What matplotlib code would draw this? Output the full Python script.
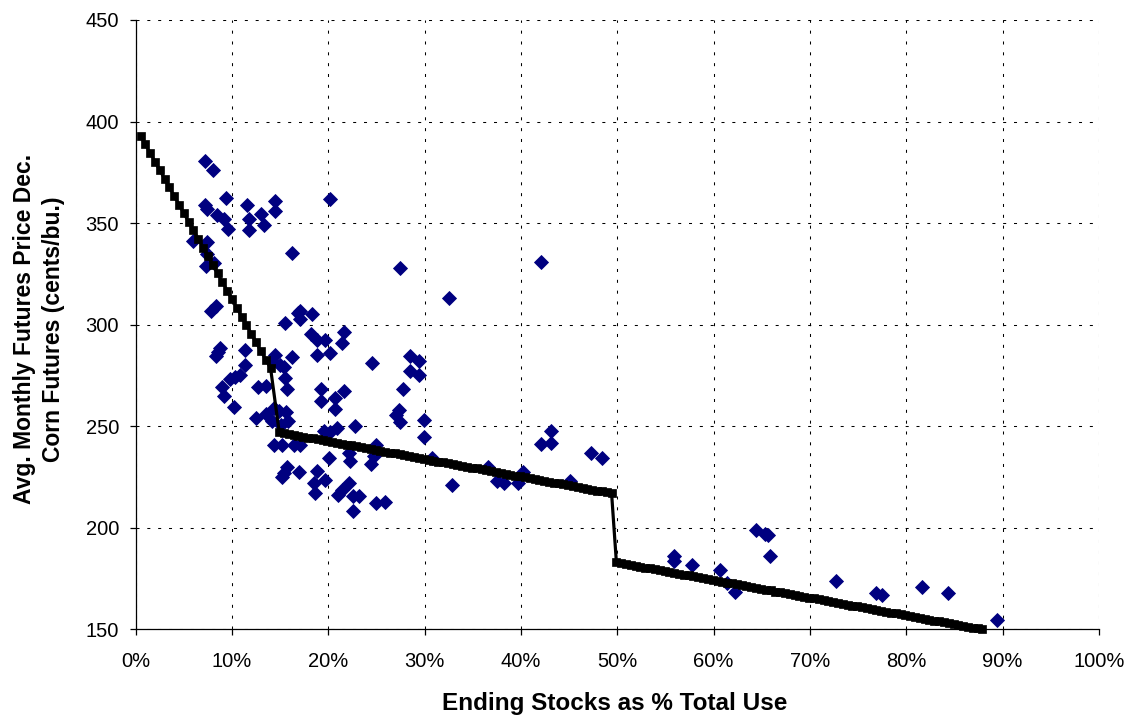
import numpy as np
import matplotlib
matplotlib.use("Agg")
import matplotlib.pyplot as plt

plt.rcParams['font.family'] = ['Liberation Sans', 'DejaVu Sans']

# Scatter observations: ending stocks (% of total use) vs. avg. monthly Dec. corn futures price (cents/bu.)
stocks_pct = [
    7.2, 8.0, 9.35, 7.2, 7.45, 11.6, 14.5, 14.5, 8.4, 9.2, 11.75, 13.0, 13.3, 9.6, 11.75,
    20.2, 5.9, 7.4, 7.4, 7.3, 8.1, 16.25, 27.4, 32.5, 7.8, 8.3, 15.5, 17.1, 16.8, 18.3,
    17.1, 18.2, 18.85, 19.7, 21.6, 21.4, 8.5, 8.8, 8.3, 11.35, 11.35, 14.5, 14.2, 15.0,
    15.4, 15.55, 15.7, 16.25, 18.85, 20.2, 24.5, 28.5, 29.4, 28.5, 29.4, 9.8, 10.3, 10.8,
    9.0, 9.2, 10.2, 12.7, 13.55, 19.25, 21.6, 19.25, 20.65, 20.7, 27.7, 27.3, 27.0, 27.4,
    29.9, 29.9, 12.5, 13.5, 14.1, 14.35, 14.9, 15.65, 15.8, 15.1, 22.8, 19.5, 20.2, 20.9,
    14.35, 15.15, 16.4, 17.1, 24.9, 20.05, 22.1, 22.25, 24.7, 24.4, 30.75, 15.7, 15.4,
    15.2, 16.95, 18.85, 19.7, 18.5, 18.65, 22.1, 21.4, 21.0, 22.6, 23.2, 22.6, 24.9, 25.9,
    32.8, 42.1, 36.6, 37.5, 38.2, 39.7, 40.2, 42.1, 43.1, 43.1, 45.1, 47.3, 48.4, 55.9,
    55.9, 57.7, 60.7, 61.4, 62.2, 64.4, 65.3, 65.6, 65.8, 72.7, 76.8, 77.5, 81.6, 84.3, 89.4,
]
price = [
    380.5, 376, 362.5, 359, 357, 359, 361, 356, 354, 352, 352, 354.5, 349, 347, 346.5,
    362, 341, 340.5, 335, 329, 330.5, 335.5, 328, 313, 306.5, 309, 300.8, 306.5, 305.5, 305.3,
    303, 295.5, 292.6, 292.6, 296.5, 291.2, 286.3, 288.3, 284.5, 287.7, 280.3, 285, 282, 280,
    279, 273.5, 268.5, 284.2, 285.2, 286, 281.2, 284.4, 282.3, 277, 275.3, 273, 274.4, 275.3,
    269.4, 265, 259.5, 269.3, 270, 268.3, 267.4, 262.5, 263.8, 258.7, 268.3, 258, 255.5, 252,
    252.8, 244.9, 254.2, 255.8, 252.5, 259, 257.3, 256.8, 252.5, 250.5, 250.3, 247.7, 247.2, 249,
    240.8, 240.8, 240.8, 240.8, 240.5, 234.2, 236.7, 233, 235.5, 231.4, 234.5, 230, 226.8,
    225.2, 227.6, 228, 223.3, 221.9, 217.2, 221.9, 218.4, 216.3, 215.5, 215.5, 208, 212, 212.8,
    221, 330.7, 230.1, 223.2, 221.9, 221.9, 227.3, 241.3, 247.4, 241.7, 223.2, 236.7, 234.2, 186,
    183.8, 181.8, 179.4, 172.8, 168.6, 198.8, 197, 196.2, 186, 173.6, 168.1, 167, 170.8, 167.8, 154.6,
]

# Price model line (three pieces), evaluated every 0.5 % of stocks-to-use
model_seg1_pct = np.arange(0.5, 14.01, 0.5)
model_seg1_price = [
    393.0, 388.8, 384.5, 380.3, 376.1, 371.8, 367.6, 363.3, 359.1, 354.9, 350.6, 346.4,
    342.2, 337.9, 333.7, 329.4, 325.2, 321.0, 316.7, 312.5, 308.3, 304.0, 299.8, 295.5,
    291.3, 287.1, 282.8, 278.6,
]
model_seg2_pct = np.arange(14.9, 49.41, 0.5)
model_seg2_price = [
    247.0, 246.6, 246.1, 245.7, 245.3, 244.8, 244.4, 244.0, 243.5, 243.1, 242.7, 242.2,
    241.8, 241.3, 240.9, 240.5, 240.0, 239.6, 239.2, 238.7, 238.3, 237.9, 237.4, 237.0,
    236.6, 236.1, 235.7, 235.3, 234.8, 234.4, 234.0, 233.5, 233.1, 232.6, 232.2, 231.8,
    231.3, 230.9, 230.5, 230.0, 229.6, 229.2, 228.7, 228.3, 227.9, 227.4, 227.0, 226.6,
    226.1, 225.7, 225.3, 224.8, 224.4, 223.9, 223.5, 223.1, 222.6, 222.2, 221.8, 221.3,
    220.9, 220.5, 220.0, 219.6, 219.2, 218.7, 218.3, 217.9, 217.4, 217.0,
]
model_seg3_pct = np.arange(49.9, 87.91, 0.5)
model_seg3_price = [
    183.0, 182.6, 182.1, 181.7, 181.3, 180.8, 180.4, 180.0, 179.5, 179.1, 178.7, 178.2,
    177.8, 177.3, 176.9, 176.5, 176.0, 175.6, 175.2, 174.7, 174.3, 173.9, 173.4, 173.0,
    172.6, 172.1, 171.7, 171.3, 170.8, 170.4, 170.0, 169.5, 169.1, 168.6, 168.2, 167.8,
    167.3, 166.9, 166.5, 166.0, 165.6, 165.2, 164.7, 164.3, 163.9, 163.4, 163.0, 162.6,
    162.1, 161.7, 161.3, 160.8, 160.4, 159.9, 159.5, 159.1, 158.6, 158.2, 157.8, 157.3,
    156.9, 156.5, 156.0, 155.6, 155.2, 154.7, 154.3, 153.9, 153.4, 153.0, 152.6, 152.1,
    151.7, 151.2, 150.8, 150.4, 149.9,
]

x_ticks = list(range(0, 101, 10))
y_ticks = list(range(150, 451, 50))

fig = plt.figure(figsize=(11.28, 7.21), dpi=100)
ax = fig.add_axes([0.1203, 0.1272, 0.8540, 0.8451])

ax.plot(stocks_pct, price, linestyle='none', marker='D', ms=6.8,
        color='#000080', mec='#000080', mew=0.6, zorder=3)

model_pct = np.concatenate([model_seg1_pct, model_seg2_pct, model_seg3_pct])
model_price = model_seg1_price + model_seg2_price + model_seg3_price
ax.plot(model_pct, model_price, color='black', lw=2.3, marker='s', ms=5.3,
        mew=0.5, zorder=4, clip_on=False)

ax.set_xlim(0, 100)
ax.set_ylim(150, 450)
ax.set_xticks(x_ticks)
ax.set_xticklabels([f"{t}%" for t in x_ticks])
ax.set_yticks(y_ticks)

ax.grid(True, color='black', lw=0.75, linestyle=(0, (2.9, 7.5)))
ax.set_axisbelow(True)
for s in ['top', 'right']:
    ax.spines[s].set_visible(False)
for s in ['left', 'bottom']:
    ax.spines[s].set_linewidth(0.9)
    ax.spines[s].set_color('black')

ax.tick_params(axis='both', direction='out', length=4, width=0.9, colors='black',
               labelsize=14.5)
ax.tick_params(axis='x', pad=12)
ax.tick_params(axis='y', pad=8)

fig.text(0.5448, 0.0243, "Ending Stocks as % Total Use", ha='center', va='center',
         fontsize=17.5, fontweight='bold')
fig.text(0.0346, 0.5437, "Avg. Monthly Futures Price Dec.\nCorn Futures (cents/bu.)",
         ha='center', va='center', rotation=90, fontsize=16.5, fontweight='bold',
         linespacing=1.3, multialignment='center')

fig.savefig("out.png", dpi=100)
